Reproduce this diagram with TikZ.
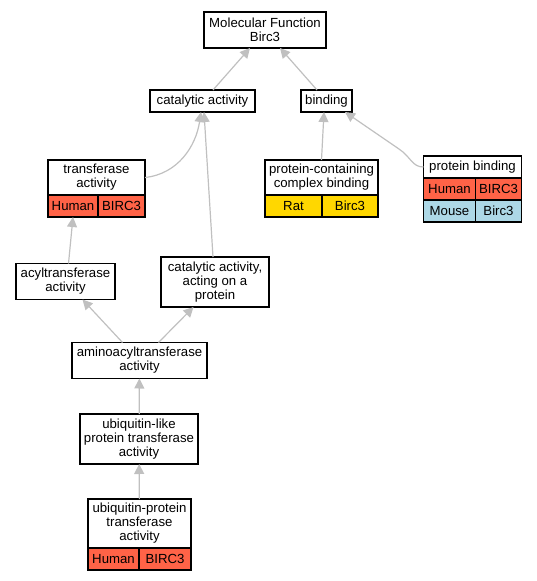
\documentclass[tikz,border=0pt]{standalone}
\usepackage{fontspec}
\setmainfont{Liberation Sans}
\usepackage{xcolor}
\usepackage{tikz}
\usetikzlibrary{positioning, arrows.meta, calc}

\definecolor{human}{HTML}{FF6347}
\definecolor{rat}{HTML}{FFD700}
\definecolor{mouse}{HTML}{ADD8E6}
\definecolor{edgegray}{HTML}{C0C0C0}

\tikzset{
  term/.style={draw, line width=1.4pt, fill=white, inner sep=0pt, outer sep=0pt, align=center,
    font=\fontsize{13.2}{14}\selectfont},
  cell/.style={term, minimum height=22pt},
  isa/.style={draw=edgegray, line width=1.2pt, -{Triangle[length=10pt, width=10pt]}, edgegray}
}

\begin{document}
\begin{tikzpicture}[x=1pt, y=-1pt]
\useasboundingbox (0,0) rectangle (536,581);

\node[term, minimum width=122, minimum height=36] (mf) at (265,30) {Molecular Function\\Birc3};
\node[term, minimum width=105, minimum height=22] (cat) at (202.5,101) {catalytic activity};
\node[term, minimum width=51, minimum height=22] (bind) at (326.5,101) {binding};

\node[term, minimum width=97, minimum height=35] (trans) at (96.5,177.5) {transferase\\activity};
\node[cell, fill=human, minimum width=50, anchor=north west] (transh) at (trans.south west) {Human};
\node[cell, fill=human, minimum width=47, anchor=north east] (transg) at (trans.south east) {BIRC3};

\node[term, minimum width=113, minimum height=35] (pcb) at (321.5,177.5) {protein-containing\\complex binding};
\node[cell, fill=rat, minimum width=57, anchor=north west] (pcbr) at (pcb.south west) {Rat};
\node[cell, fill=rat, minimum width=56, anchor=north east] (pcbg) at (pcb.south east) {Birc3};

\node[term, minimum width=98, minimum height=22] (pb) at (472.5,167) {protein binding};
\node[cell, fill=human, minimum width=52, anchor=north west] (pbh) at (pb.south west) {Human};
\node[cell, fill=human, minimum width=46, anchor=north east] (pbhg) at (pb.south east) {BIRC3};
\node[cell, fill=mouse, minimum width=52, anchor=north west] (pbm) at (pbh.south west) {Mouse};
\node[cell, fill=mouse, minimum width=46, anchor=north east] (pbmg) at (pbhg.south east) {Birc3};

\node[term, minimum width=99, minimum height=36] (acyl) at (65.5,281.5) {acyltransferase\\activity};
\node[term, minimum width=108, minimum height=50] (cap) at (215,282) {catalytic activity,\\acting on a\\protein};
\node[term, minimum width=135, minimum height=36] (amino) at (139.5,360.5) {aminoacyltransferase\\activity};
\node[term, minimum width=118, minimum height=50] (ubl) at (139,439) {ubiquitin-like\\protein transferase\\activity};

\node[term, minimum width=103, minimum height=49] (ubp) at (139.5,523.5) {ubiquitin-protein\\transferase\\activity};
\node[cell, fill=human, minimum width=51, anchor=north west] (ubph) at (ubp.south west) {Human};
\node[cell, fill=human, minimum width=52, anchor=north east] (ubpg) at (ubp.south east) {BIRC3};

\draw[isa] ($(cat.north)+(10.5,0)$) -- ($(mf.south)+(-15,0)$);
\draw[isa] ($(bind.north)+(-9.5,0)$) -- ($(mf.south)+(15,0)$);
\draw[isa] (trans.east) .. controls (178,174) and (196,146) .. ($(cat.south)+(-1.5,0)$);
\draw[isa] ($(cap.north)+(-2,0)$) -- ($(cat.south)+(1.5,0)$);
\draw[isa] (pcb.north) -- ($(bind.south)+(-2.5,0)$);
\draw[isa] (pb.west) .. controls (412,167) and (411,157) .. (399,149) -- ($(bind.south east)+(-7,0)$);
\draw[isa] ($(acyl.north)+(3,0)$) -- (transh.south);
\draw[isa] ($(amino.north)+(-17,0)$) -- ($(acyl.south)+(17,0)$);
\draw[isa] ($(amino.north)+(19,0)$) -- ($(cap.south)+(-21.5,0)$);
\draw[isa] (ubl) -- (amino);
\draw[isa] (ubp) -- (ubl);
\end{tikzpicture}
\end{document}
